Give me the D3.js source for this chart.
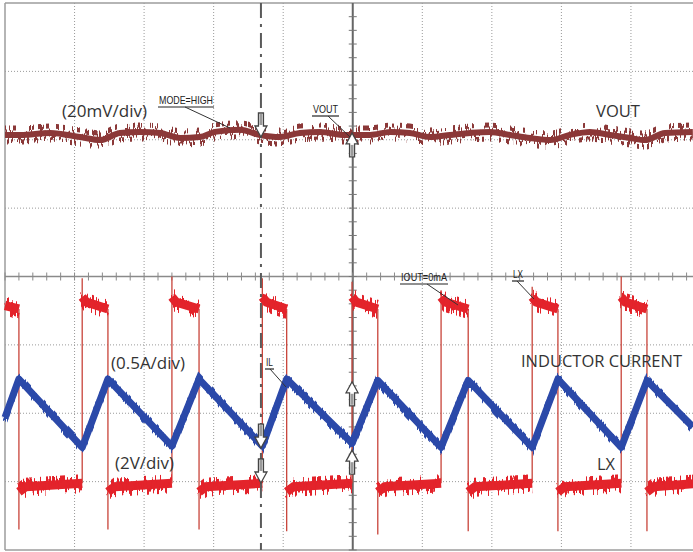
<!DOCTYPE html>
<html><head><meta charset="utf-8">
<script src="https://cdn.jsdelivr.net/npm/d3@7/dist/d3.min.js"></script>
<style>html,body{margin:0;padding:0;background:#fff;} svg{display:block;}</style>
</head><body>
<svg id="c" width="693" height="552"></svg>
<script>
// ---------------- data (time in screen divisions, 10 div across) ----------------
const lxRiseT = [1.11, 2.40, 3.70, 4.99, 6.27, 7.58, 8.86];
const lxFallT = [0.20, 1.48, 2.79, 4.05, 5.36, 6.66, 7.95, 9.23];
const lxRiseSpikeV = [5.95, 6.0, 5.95, 5.85, 5.6, 5.7, 6.0];          // V, overshoot at turn-on
const lxFallSpikeV = [-1.4, -1.4, -1.4, -1.45, -1.55, -1.45, -1.45, -1.45]; // V, undershoot at turn-off
const lxHighV = [5.25, 5.05];   // V, start / end of on-time
const lxLowV  = [-0.15, -0.05]; // V, start / end of off-time
const lxStartV = 5.15;          // V at left edge (on-time in progress)

const ilT = [0.00, 0.20, 1.11, 1.48, 2.40, 2.79, 3.70, 4.05, 4.99, 5.36, 6.27, 6.66, 7.58, 7.95, 8.86, 9.23, 9.89];
const ilA = [0.22, 0.50, 0.00, 0.50, 0.01, 0.50, 0.01, 0.50, 0.03, 0.49, 0.00, 0.49, 0.00, 0.50, 0.00, 0.49, 0.15];

const voutT  = [0.00,0.22,0.65,1.08,1.37,1.65,1.94,2.23,2.52,2.80,3.02,3.38,3.67,3.95,4.24,4.53,4.89,5.25,5.54,5.82,6.11,6.40,6.69,6.97,7.26,7.55,7.84,8.12,8.41,8.70,8.99,9.20,9.49,9.89];
const voutMv = [1.4,1.4,2.0,0.8,-0.1,2.0,2.3,2.0,0.5,0.8,2.3,2.9,1.4,0.8,2.0,2.3,1.4,1.4,2.3,2.0,0.8,1.4,2.0,2.3,1.4,0.5,-0.1,1.4,2.3,1.4,0.5,-0.1,2.0,2.3];

const cursorT = [3.68];
const markerT   = [3.68, 4.99, 3.68, 3.68, 4.99, 4.99];
const markerDiv = [2.04, 2.10, -2.51, -3.02, -1.54, -2.54];
const markerDir = ["down", "up", "down", "down", "up", "up"];

// ---------------- scales ----------------
const svg = d3.select("#c");
const x = d3.scaleLinear().domain([0, 10]).range([5, 700.5]);
const yDiv = d3.scaleLinear().domain([-4, 4]).range([550, 3]);
const yLX = d3.scaleLinear().domain([-2, 14]).range([550, 3]);      // 2 V/div, 0 V at -3 div
const yIL = d3.scaleLinear().domain([-0.75, 3.25]).range([550, 3]); // 0.5 A/div, 0 A at -2.5 div
const yVO = d3.scaleLinear().domain([-120, 40]).range([550, 3]);    // 20 mV/div, ref at +2 div

// ---------------- noise filters (rendering texture only) ----------------
const defs = svg.append("defs");
function noiseFilter(id, seed, scale, fx) {
  const f = defs.append("filter").attr("id", id).attr("filterUnits", "userSpaceOnUse")
    .attr("primitiveUnits", "userSpaceOnUse").attr("x", 0).attr("y", 0).attr("width", 693).attr("height", 552);
  f.append("feTurbulence").attr("type", "fractalNoise").attr("baseFrequency", fx + " 0.02")
    .attr("numOctaves", 3).attr("seed", seed).attr("result", "t");
  const ct = f.append("feComponentTransfer").attr("in", "t").attr("result", "t2");
  ct.append("feFuncR").attr("type", "linear").attr("slope", 0).attr("intercept", 0.5);
  ct.append("feFuncG").attr("type", "linear").attr("slope", 4).attr("intercept", -1.5);
  f.append("feDisplacementMap").attr("in", "SourceGraphic").attr("in2", "t2").attr("scale", scale)
    .attr("xChannelSelector", "R").attr("yChannelSelector", "G");
}
noiseFilter("nVo", 3, 14, 0.4);
noiseFilter("nLx", 7, 13, 0.4);
noiseFilter("nIl", 11, 7, 0.45);

// ---------------- grid ----------------
const g = svg.append("g");
g.selectAll("line.gx").data(d3.range(1, 10).filter(d => d !== 5)).join("line")
  .attr("x1", d => x(d)).attr("x2", d => x(d)).attr("y1", yDiv(4)).attr("y2", yDiv(-4))
  .attr("stroke", "#9a9a9a").attr("stroke-width", 1).attr("stroke-dasharray", "1,2");
g.selectAll("line.gy").data(d3.range(-3, 4).filter(d => d !== 0)).join("line")
  .attr("x1", x(0)).attr("x2", x(10)).attr("y1", d => yDiv(d)).attr("y2", d => yDiv(d))
  .attr("stroke", "#9a9a9a").attr("stroke-width", 1).attr("stroke-dasharray", "1,2");
// frame
g.append("line").attr("x1", x(0)).attr("x2", x(0)).attr("y1", yDiv(4)).attr("y2", yDiv(-4)).attr("stroke", "#9c9c9c").attr("stroke-width", 1.5);
g.append("line").attr("x1", x(0)).attr("x2", x(10)).attr("y1", yDiv(4)).attr("y2", yDiv(4)).attr("stroke", "#9c9c9c").attr("stroke-width", 1.5);
g.append("line").attr("x1", x(0)).attr("x2", x(10)).attr("y1", yDiv(-4)).attr("y2", yDiv(-4)).attr("stroke", "#9c9c9c").attr("stroke-width", 1.5);
// centre axes with minor ticks
g.append("line").attr("x1", x(0)).attr("x2", x(10)).attr("y1", yDiv(0)).attr("y2", yDiv(0)).attr("stroke", "#8a8a8a").attr("stroke-width", 1.3);
g.append("line").attr("x1", x(5)).attr("x2", x(5)).attr("y1", yDiv(4)).attr("y2", yDiv(-4)).attr("stroke", "#666").attr("stroke-width", 2);
g.selectAll("line.tx").data(d3.range(0, 50).map(i => i / 5)).join("line")
  .attr("x1", d => x(d)).attr("x2", d => x(d)).attr("y1", yDiv(0) - 4).attr("y2", yDiv(0) + 4)
  .attr("stroke", "#8a8a8a").attr("stroke-width", 1);
g.selectAll("line.ty").data(d3.range(-20, 20).map(i => i / 5)).join("line")
  .attr("x1", x(5) - 4).attr("x2", x(5) + 4).attr("y1", d => yDiv(d)).attr("y2", d => yDiv(d))
  .attr("stroke", "#777").attr("stroke-width", 1);

// ---------------- VOUT ----------------
const voutData = voutT.map((t, i) => [t, voutMv[i]]);
const vLine = d3.line().x(d => x(d[0])).y(d => yVO(d[1])).curve(d3.curveMonotoneX);
svg.append("path").attr("d", vLine(voutData)).attr("fill", "none").attr("stroke", "#8b3838").attr("stroke-width", 6);
svg.append("path").attr("d", vLine(voutData)).attr("fill", "none").attr("stroke", "#8b3838").attr("stroke-width", 5).attr("filter", "url(#nVo)");

// ---------------- LX ----------------
const events = lxRiseT.map((t, i) => ({ t, type: "rise", spike: lxRiseSpikeV[i] }))
  .concat(lxFallT.map((t, i) => ({ t, type: "fall", spike: lxFallSpikeV[i] })))
  .sort((a, b) => a.t - b.t);
const lxL = d3.line().x(d => x(d[0])).y(d => yLX(d[1]));
const bands = [];
bands.push([[0, lxStartV], [events[0].t, lxHighV[1]]]);
events.forEach((e, i) => {
  const tEnd = i + 1 < events.length ? events[i + 1].t : 9.96;
  if (e.type === "rise") bands.push([[e.t, lxHighV[0] + 0.15], [e.t + 0.06, lxHighV[0]], [tEnd, lxHighV[1]]]);
  else bands.push([[e.t, lxLowV[0] - 0.15], [e.t + 0.1, lxLowV[0]], [tEnd, lxLowV[1]]]);
});
const edges = events.map(e => e.type === "rise"
  ? [[e.t, lxLowV[1]], [e.t, e.spike], [e.t, lxHighV[0]]]
  : [[e.t, lxHighV[1]], [e.t, e.spike], [e.t, lxLowV[0]]]);
svg.selectAll("path.edge").data(edges).join("path").attr("class", "edge")
  .attr("d", d => lxL(d)).attr("fill", "none").attr("stroke", "#c8443a").attr("stroke-width", 1.3);
const bandG = svg.append("g");
bandG.selectAll("path").data(bands).join("path").attr("d", d => lxL(d)).attr("fill", "none")
  .attr("stroke", "#e3242b").attr("stroke-width", 9);
const bandN = svg.append("g").attr("filter", "url(#nLx)");
bandN.selectAll("path").data(bands).join("path").attr("d", d => lxL(d)).attr("fill", "none")
  .attr("stroke", "#e3242b").attr("stroke-width", 6);

// ---------------- IL ----------------
const ilData = ilT.map((t, i) => [t, ilA[i]]);
const ilL = d3.line().x(d => x(d[0])).y(d => yIL(d[1]));
svg.append("path").attr("d", ilL(ilData)).attr("fill", "none").attr("stroke", "#2c49a9").attr("stroke-width", 7).attr("stroke-linejoin", "round");
svg.append("path").attr("d", ilL(ilData)).attr("fill", "none").attr("stroke", "#2c49a9").attr("stroke-width", 5).attr("filter", "url(#nIl)");

// ---------------- cursor ----------------
svg.selectAll("line.cur").data(cursorT).join("line")
  .attr("x1", d => x(d)).attr("x2", d => x(d)).attr("y1", yDiv(4)).attr("y2", yDiv(-4))
  .attr("stroke", "#5a5a5a").attr("stroke-width", 2).attr("stroke-dasharray", "15,6,3,6");

// ---------------- markers ----------------
markerT.forEach((t, i) => {
  const cx = x(t), ty = yDiv(markerDiv[i]), s = markerDir[i] === "down" ? -1 : 1;
  const hb = ty + s * 11, se = ty + s * 24;
  svg.append("path")
    .attr("d", `M${cx - 2.5},${se}L${cx + 2.5},${se}L${cx + 2.5},${hb}L${cx + 6},${hb}L${cx},${ty}L${cx - 6},${hb}L${cx - 2.5},${hb}Z`)
    .attr("fill", "#fff").attr("stroke", "#444").attr("stroke-width", 1.3).attr("stroke-linejoin", "miter");
  svg.append("rect").attr("x", cx - 1.5).attr("width", 3).attr("y", Math.min(hb, se) + 1).attr("height", 11)
    .attr("fill", "#9a9a9a");
});

// ---------------- annotations ----------------
const big = [
  { t: "(20mV/div)", x: 62, y: 117, w: 85 },
  { t: "VOUT", x: 596, y: 117, w: 44 },
  { t: "(0.5A/div)", x: 111, y: 369, w: 74 },
  { t: "(2V/div)", x: 115, y: 469, w: 59 },
  { t: "INDUCTOR CURRENT", x: 521, y: 367, w: 161 },
  { t: "LX", x: 597, y: 470, w: 18 }
];
svg.selectAll("text.big").data(big).join("text")
  .attr("x", d => d.x).attr("y", d => d.y).text(d => d.t)
  .attr("textLength", d => d.w).attr("lengthAdjust", "spacingAndGlyphs")
  .attr("font-family", "'Open Sans', 'Noto Sans', sans-serif").attr("font-size", 16.5).attr("fill", "#333");

const small = [
  { t: "MODE=HIGH", x: 159, y: 104, w: 54, lx1: 185, lx2: 230, ly2: 128 },
  { t: "VOUT", x: 313, y: 113, w: 25, lx1: 328, lx2: 350, ly2: 137 },
  { t: "IOUT=0mA", x: 401, y: 281, w: 46, lx1: 427, lx2: 458, ly2: 305 },
  { t: "LX", x: 513, y: 278, w: 10, lx1: 517, lx2: 534, ly2: 299 },
  { t: "IL", x: 266, y: 366, w: 7, lx1: 270, lx2: 286, ly2: 387 }
];
svg.selectAll("text.sm").data(small).join("text")
  .attr("x", d => d.x).attr("y", d => d.y).text(d => d.t)
  .attr("textLength", d => d.w).attr("lengthAdjust", "spacingAndGlyphs")
  .attr("font-family", "'Liberation Sans Narrow', 'Liberation Sans', Arial, sans-serif").attr("font-size", 11).attr("fill", "#222");
svg.selectAll("line.ul").data(small).join("line")
  .attr("x1", d => d.x - 1).attr("x2", d => d.x + d.w + 1).attr("y1", d => d.y + 3).attr("y2", d => d.y + 3)
  .attr("stroke", "#222").attr("stroke-width", 1.2);
svg.selectAll("line.ld").data(small).join("line")
  .attr("x1", d => d.lx1).attr("x2", d => d.lx2).attr("y1", d => d.y + 3).attr("y2", d => d.ly2)
  .attr("stroke", "#333").attr("stroke-width", 1);
</script>
</body></html>
